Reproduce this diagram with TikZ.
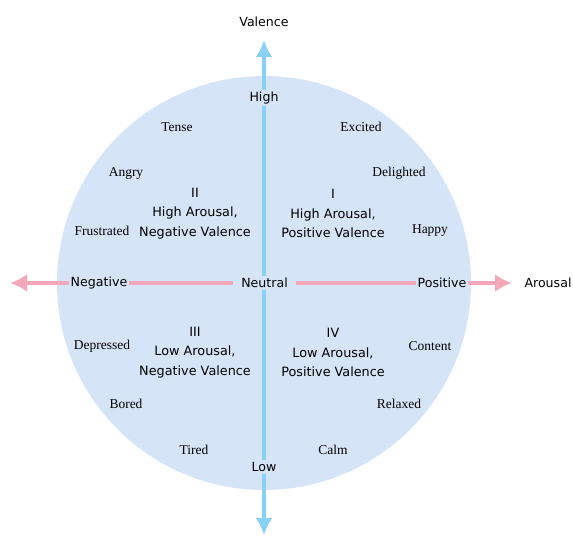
\documentclass[tikz,border=0pt]{standalone}
\usepackage{fontspec}
\setmainfont{Liberation Serif}
\newfontfamily\comicfont{DejaVu Sans}
\usetikzlibrary{arrows.meta}

\definecolor{circfill}{RGB}{214,228,248}
\definecolor{valblue}{RGB}{136,208,245}
\definecolor{arpink}{RGB}{244,167,185}

\begin{document}
\begin{tikzpicture}[
        x=1pt, y=-1pt,
        axislabel/.style={font=\comicfont\fontsize{12.6}{15}\selectfont, fill=circfill, inner sep=2pt},
        outlabel/.style={font=\comicfont\fontsize{12.6}{15}\selectfont, inner sep=1pt},
        quad/.style={font=\comicfont\fontsize{12.8}{19.5}\selectfont, align=center},
        emo/.style={font=\fontsize{13.5}{16}\selectfont},
        valaxis/.style={-{Latex[length=17pt,width=17pt]}, line width=4pt, draw=valblue},
        araxis/.style={-{Latex[length=17pt,width=18pt]}, line width=4pt, draw=arpink}
    ]
        \useasboundingbox (0,0) rectangle (573,536);

        % circle of the model
        \fill[circfill] (264,283) circle (207);

        % axes
        \coordinate (vtop) at (264,40);
        \coordinate (vbot) at (264,535);
        \coordinate (aleft) at (10,283);
        \coordinate (aright) at (512,283);
        \draw[valaxis] (264,283) -- (vtop);
        \draw[valaxis] (264,283) -- (vbot);
        \draw[araxis] (264,283) -- (aleft);
        \draw[araxis] (264,283) -- (aright);

        % axis labels
        \node[axislabel] (high) at (264,98) {High};
        \node[axislabel] (low) at (264,467) {Low};
        \node[axislabel] (neg) at (99,283) {Negative};
        \node[axislabel] (pos) at (442,283) {Positive};
        \node[axislabel, inner xsep=8pt] (neutral) at (264.5,283) {Neutral};
        \node[outlabel] (valence) at (264,22) {Valence};
        \node[outlabel] (arousal) at (548,283) {Arousal};

        % quadrants
        \node[quad] (q1) at (333,213.5) {I\\High Arousal,\\Positive Valence};
        \node[quad] (q2) at (195,213.5) {II\\High Arousal,\\Negative Valence};
        \node[quad] (q3) at (195,352.5) {III\\Low Arousal,\\Negative Valence};
        \node[quad] (q4) at (333,352.5) {IV\\Low Arousal,\\Positive Valence};

        % emotions
        \node[emo] (tense) at (177,127) {Tense};
        \node[emo] (excited) at (361,127) {Excited};
        \node[emo] (angry) at (126,173) {Angry};
        \node[emo] (delighted) at (399,173) {Delighted};
        \node[emo] (frustrated) at (102,231) {Frustrated};
        \node[emo] (happy) at (430,231) {Happy};
        \node[emo] (depressed) at (102,346) {Depressed};
        \node[emo] (content) at (430,346) {Content};
        \node[emo] (bored) at (126,404) {Bored};
        \node[emo] (relaxed) at (399,404) {Relaxed};
        \node[emo] (tired) at (194,450) {Tired};
        \node[emo] (calm) at (333,450) {Calm};
    \end{tikzpicture}
\end{document}
